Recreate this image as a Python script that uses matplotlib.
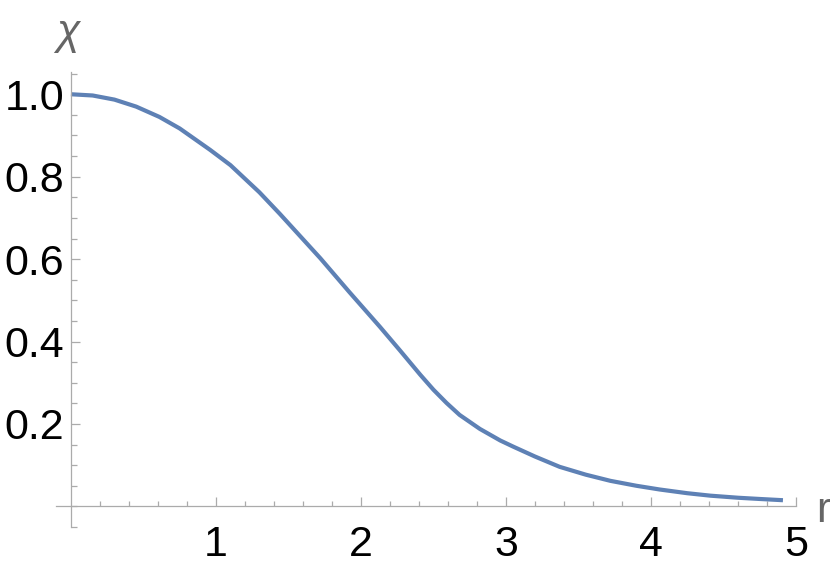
import numpy as np
import matplotlib
matplotlib.use("Agg")
import matplotlib.pyplot as plt

plt.rcParams.update({
    "font.family": ["Liberation Sans", "DejaVu Sans"],
    "font.size": 31,
})

# ---- data ----
r_vals = [0.00, 0.15, 0.30, 0.45, 0.61, 0.75, 0.96, 1.10, 1.30, 1.44,
          1.58, 1.72, 1.92, 2.13, 2.27, 2.41, 2.50, 2.59, 2.68, 2.82,
          2.96, 3.05, 3.20, 3.37, 3.55, 3.72, 3.90, 4.06, 4.25, 4.41,
          4.60, 4.75, 4.91]
chi_vals = [1.000, 0.997, 0.987, 0.970, 0.945, 0.917, 0.865, 0.828, 0.762, 0.710,
            0.656, 0.602, 0.520, 0.436, 0.378, 0.319, 0.283, 0.251, 0.222, 0.188,
            0.160, 0.145, 0.121, 0.096, 0.077, 0.062, 0.050, 0.041, 0.032, 0.026,
            0.021, 0.018, 0.015]

x_major = [1, 2, 3, 4, 5]
y_major = [0.2, 0.4, 0.6, 0.8, 1.0]
y_labels = ["0.2", "0.4", "0.6", "0.8", "1.0"]

LINE = "#5E81B5"
AXC = "#ababab"
LABC = "#666666"

fig = plt.figure(figsize=(8.3, 5.72), dpi=100)
ax = fig.add_axes([56/830, 45/572, 740/830, 455/572])

ax.plot(r_vals, chi_vals, color=LINE, lw=3.0, solid_capstyle="butt",
        solid_joinstyle="round", clip_on=False)

ax.set_xlim(-0.103, 5.0)
ax.set_ylim(-0.05, 1.054)

for s in ["top", "right"]:
    ax.spines[s].set_visible(False)
ax.spines["left"].set_position(("data", 0))
ax.spines["bottom"].set_position(("data", 0))
for s in ["left", "bottom"]:
    ax.spines[s].set_color(AXC)
    ax.spines[s].set_linewidth(0.9)

ax.set_xticks(x_major)
ax.set_xticks(np.arange(0.2, 5.0, 0.2), minor=True)
ax.set_yticks(y_major)
ax.set_yticklabels(y_labels)
ax.set_yticks(np.arange(-0.05, 1.06, 0.05), minor=True)

ax.tick_params(which="both", direction="in", color=AXC, width=0.9, labelcolor="black")
ax.tick_params(axis="x", which="major", length=6.5, pad=13.5)
ax.tick_params(axis="x", which="minor", length=3.6)
ax.tick_params(axis="y", which="major", length=6.5, pad=5)
ax.tick_params(axis="y", which="minor", length=4.2)

# axis labels in Mathematica style: at the ends of the axes
fig.text(68/830, 1 - 44/572, "χ", ha="center", va="baseline",
         color=LABC, style="italic", fontsize=31)
fig.text(816/830, 1 - 521.5/572, "r", ha="left", va="baseline",
         color=LABC, fontsize=31)

fig.savefig("out.png", dpi=100)
